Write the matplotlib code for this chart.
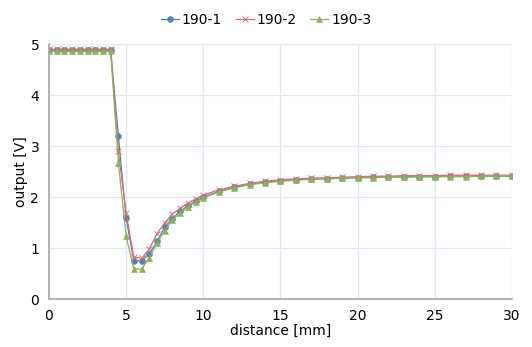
import matplotlib
matplotlib.use("Agg")
import matplotlib.pyplot as plt

distance = [0, 0.5, 1, 1.5, 2, 2.5, 3, 3.5, 4, 4.5, 5, 5.5, 6, 6.5, 7, 7.5, 8, 8.5, 9, 9.5, 10,
            11, 12, 13, 14, 15, 16, 17, 18, 19, 20, 21, 22, 23, 24, 25, 26, 27, 28, 29, 30]

s190_1 = [4.88, 4.88, 4.88, 4.88, 4.88, 4.88, 4.88, 4.88, 4.88, 3.20, 1.59, 0.75, 0.75, 0.88, 1.13, 1.41, 1.58, 1.72, 1.83, 1.92, 2.00,
          2.11, 2.19, 2.25, 2.29, 2.32, 2.34, 2.35, 2.36, 2.37, 2.38, 2.39, 2.39, 2.40, 2.40, 2.40, 2.41, 2.41, 2.41, 2.41, 2.41]
s190_2 = [4.90, 4.90, 4.90, 4.90, 4.90, 4.90, 4.90, 4.90, 4.90, 2.90, 1.69, 0.82, 0.80, 0.98, 1.28, 1.49, 1.67, 1.78, 1.88, 1.96, 2.04,
          2.14, 2.21, 2.27, 2.31, 2.34, 2.36, 2.37, 2.38, 2.39, 2.40, 2.41, 2.41, 2.42, 2.42, 2.42, 2.43, 2.43, 2.43, 2.43, 2.43]
s190_3 = [4.86, 4.86, 4.86, 4.86, 4.86, 4.86, 4.86, 4.86, 4.86, 2.67, 1.24, 0.59, 0.59, 0.80, 1.10, 1.34, 1.55, 1.69, 1.81, 1.90, 1.98,
          2.10, 2.18, 2.24, 2.28, 2.31, 2.33, 2.35, 2.36, 2.37, 2.38, 2.38, 2.39, 2.39, 2.40, 2.40, 2.40, 2.40, 2.41, 2.41, 2.41]

labels = ["190-1", "190-2", "190-3"]
colors = ["#4F81BD", "#D86870", "#8DB255"]
markers = ["o", "x", "^"]

fig = plt.figure(figsize=(5.32, 3.47), dpi=100)
ax = fig.add_axes([0.092, 0.138, 0.870, 0.735])

for ys, lab, c, m in zip([s190_1, s190_2, s190_3], labels, colors, markers):
    ms = 4.2 if m != "x" else 4.2
    ax.plot(distance, ys, color=c, lw=0.9, marker=m, markersize=ms,
            markeredgewidth=0.6 if m == "x" else 0.4, label=lab)

ax.set_xlim(0, 30)
ax.set_ylim(0, 5)
ax.set_xticks(range(0, 31, 5))
ax.set_yticks(range(0, 6))
ax.grid(True, color="#DDE7F2", lw=0.9)
ax.set_axisbelow(True)
for s in ["top", "right"]:
    ax.spines[s].set_visible(False)
for s in ["left", "bottom"]:
    ax.spines[s].set_color("#A6A6A6")
    ax.spines[s].set_linewidth(1.2)
ax.tick_params(length=0, labelsize=10, pad=7, colors="#000000")
ax.set_xlabel("distance [mm]", fontsize=10, labelpad=1)
ax.set_ylabel("output [V]", fontsize=10, labelpad=2)

fig.legend(loc="upper center", bbox_to_anchor=(0.50, 1.0), ncol=3, frameon=False,
           fontsize=10, handlelength=1.3, handletextpad=0.2, columnspacing=1.0)

fig.savefig("out.png", dpi=100)
